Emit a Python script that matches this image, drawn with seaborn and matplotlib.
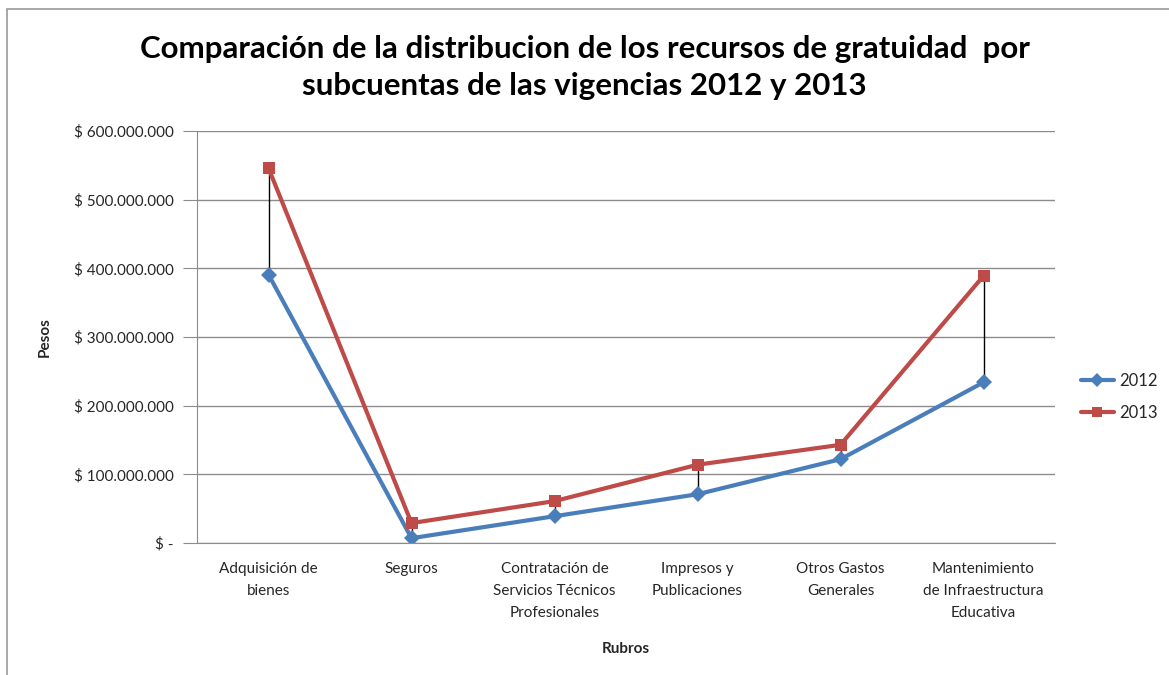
import matplotlib.pyplot as plt
import matplotlib.ticker as mticker
import seaborn as sns
import pandas as pd

# data
rubros = ['Adquisición de\nbienes', 'Seguros',
          'Contratación de\nServicios Técnicos\nProfesionales',
          'Impresos y\nPublicaciones', 'Otros Gastos\nGenerales',
          'Mantenimiento\nde Infraestructura\nEducativa']
valores_2012 = [391e6, 7e6, 39e6, 71e6, 122e6, 234e6]
valores_2013 = [546e6, 29e6, 61e6, 114e6, 143e6, 389e6]
y_ticks = [0, 100e6, 200e6, 300e6, 400e6, 500e6, 600e6]

df = pd.DataFrame({
    'Rubros': rubros * 2,
    'Pesos': valores_2012 + valores_2013,
    'Vigencia': ['2012'] * len(rubros) + ['2013'] * len(rubros),
})

sns.set_style('white')
plt.rcParams['font.family'] = ['Lato', 'DejaVu Sans']
txt_color = '#262626'

fig = plt.figure(figsize=(11.69, 6.75), dpi=100)
ax = fig.add_axes([197 / 1169, 1 - 543 / 675, 858 / 1169, 412 / 675])

# high-low lines between the two series
x_pos = list(range(len(rubros)))
ax.vlines(x_pos, valores_2012, valores_2013, color='black', linewidth=1, zorder=1)

palette = {'2012': '#4A7EBB', '2013': '#BE4B48'}
sns.lineplot(data=df, x='Rubros', y='Pesos', hue='Vigencia', style='Vigencia',
             markers={'2012': 'D', '2013': 's'}, dashes=False, palette=palette,
             linewidth=3, markersize=8, markeredgewidth=0, sort=False, ax=ax,
             zorder=2)

ax.set_xlim(-0.5, len(rubros) - 0.5)
ax.set_ylim(0, 600e6)
ax.set_yticks(y_ticks)


def pesos(v, pos):
    if v == 0:
        return '$ -'
    return '$ ' + f'{v:,.0f}'.replace(',', '.')


ax.yaxis.set_major_formatter(mticker.FuncFormatter(pesos))
ax.grid(axis='y', color='#8c8c8c', linewidth=1)
for s in ['top', 'right']:
    ax.spines[s].set_visible(False)
ax.spines['left'].set_color('#8c8c8c')
ax.spines['bottom'].set_color('#8c8c8c')
ax.tick_params(axis='y', which='major', left=True, length=10, color='#8c8c8c',
               labelsize=11, pad=7, labelcolor=txt_color)
ax.tick_params(axis='x', bottom=False, labelsize=11, pad=10, labelcolor=txt_color)
for lab in ax.get_xticklabels():
    lab.set_linespacing(1.75)

ax.set_xlabel('Rubros', fontsize=11, fontweight='bold', labelpad=16,
              color=txt_color)
ax.set_ylabel('Pesos', fontsize=11, fontweight='bold', labelpad=16,
              color=txt_color)

fig.text(0.5, 0.9,
         'Comparación de la distribucion de los recursos de gratuidad  por\n'
         'subcuentas de las vigencias 2012 y 2013',
         ha='center', va='center', fontsize=22.5, fontweight='bold',
         linespacing=1.4, color='black')

# legend outside, right of the plot
handles, labels = ax.get_legend_handles_labels()
for h in handles:
    h.set_markersize(7)
ax.legend(handles, labels, loc='center left', bbox_to_anchor=(1.03, 0.355),
          frameon=False, fontsize=12, handlelength=2.0, handletextpad=0.3,
          labelspacing=0.95, borderaxespad=0, borderpad=0)

# thin frame of the chart area (right and bottom edges fall outside)
fig.add_artist(plt.Rectangle((7 / 1169, -0.05), 1.2, 1 - 9 / 675 + 0.05,
                             transform=fig.transFigure, fill=False,
                             edgecolor='#9a9a9a', linewidth=1.2))

fig.savefig('out.png', dpi=100)
